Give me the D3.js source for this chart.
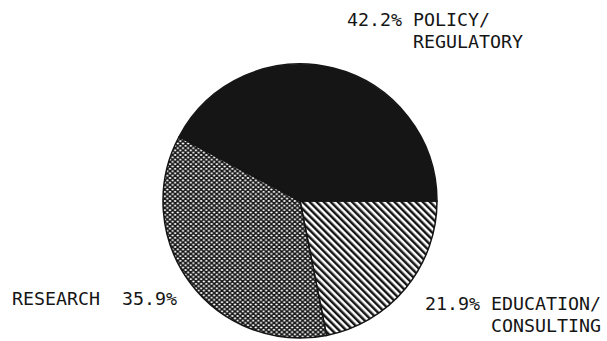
<!DOCTYPE html>
<html>
<head>
<meta charset="utf-8">
<script src="https://cdn.jsdelivr.net/npm/d3@7"></script>
<style>
  html, body { margin: 0; padding: 0; background: #fff; }
  svg { display: block; }
  text { font-family: "DejaVu Sans Mono", monospace; font-size: 18.3px; fill: #151515; }
</style>
</head>
<body>
<svg id="grafico"></svg>
<script>
// slices, clockwise from 3 o'clock
const categorias = ["EDUCATION/CONSULTING", "RESEARCH", "POLICY/REGULATORY"];
const percentuais = [21.9, 35.9, 42.2];
const rotulos = [
    ["21.9% EDUCATION/", "      CONSULTING"],
    ["RESEARCH  35.9%"],
    ["42.2% POLICY/", "      REGULATORY"]
];

const width = 607, height = 341;
const svg = d3.select("#grafico").attr("width", width).attr("height", height);
const defs = svg.append("defs");

// hatch for education (\\\ direction)
const listras = defs.append("pattern")
    .attr("id", "listras")
    .attr("patternUnits", "userSpaceOnUse")
    .attr("width", 5).attr("height", 5)
    .attr("patternTransform", "rotate(-45)");
listras.append("rect").attr("width", 5).attr("height", 5).attr("fill", "#fff");
listras.append("rect").attr("width", 2.5).attr("height", 5).attr("fill", "#151515");

// dense crosshatch for research
const pw = 5.2, ph = 4.6;
const xadrez = defs.append("pattern")
    .attr("id", "xadrez")
    .attr("patternUnits", "userSpaceOnUse")
    .attr("width", pw).attr("height", ph);
xadrez.append("rect").attr("width", pw).attr("height", ph).attr("fill", "#151515");
[[0, 0], [pw, 0], [0, ph], [pw, ph], [pw / 2, ph / 2]].forEach(([x, y]) => {
    xadrez.append("ellipse")
        .attr("cx", x).attr("cy", y).attr("rx", 1.3).attr("ry", 0.9)
        .attr("fill", "#fff");
});

const preenchimentos = ["url(#listras)", "url(#xadrez)", "#151515"];

const cx = 300, cy = 201, raio = 137;

const pie = d3.pie()
    .sort(null)
    .startAngle(Math.PI / 2)
    .endAngle(Math.PI / 2 + 2 * Math.PI);

const arc = d3.arc().innerRadius(0).outerRadius(raio);

const g = svg.append("g").attr("transform", `translate(${cx},${cy})`);
g.selectAll("path")
    .data(pie(percentuais))
    .join("path")
    .attr("d", arc)
    .attr("fill", (d, i) => preenchimentos[i])
    .attr("stroke", "#151515")
    .attr("stroke-width", 1.5)
    .attr("stroke-linejoin", "round");

// labels
const posRotulos = [[425, 310], [12, 305], [347, 26]];
rotulos.forEach((linhas, i) => {
    const t = svg.append("text")
        .attr("x", posRotulos[i][0])
        .attr("y", posRotulos[i][1])
        .attr("xml:space", "preserve");
    linhas.forEach((l, j) => {
        t.append("tspan")
            .attr("x", posRotulos[i][0])
            .attr("dy", j === 0 ? 0 : 21.5)
            .text(l);
    });
});
</script>
</body>
</html>
